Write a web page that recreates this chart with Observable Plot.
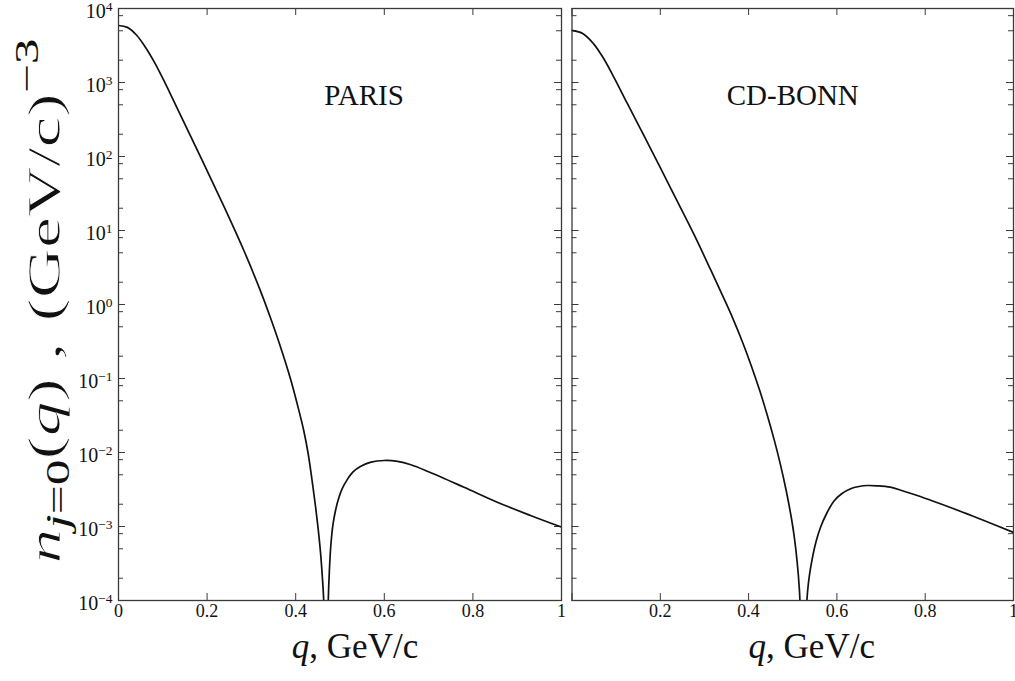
<!DOCTYPE html>
<html>
<head>
<meta charset="utf-8">
<script src="https://cdn.jsdelivr.net/npm/d3@7"></script>
<script src="https://cdn.jsdelivr.net/npm/@observablehq/plot@0.6"></script>
<style>
  html, body { margin: 0; padding: 0; background: #fff; }
  #wrap { position: relative; width: 1015px; height: 681px; overflow: hidden; background: #fff; }
  #wrap svg { position: absolute; top: 0; }
</style>
</head>
<body>
<div id="wrap"></div>
<script>
// ---- data ----
const qParis = [0, 0.02, 0.04, 0.06, 0.08, 0.10, 0.12, 0.15, 0.18, 0.21, 0.245, 0.283, 0.32, 0.343, 0.365, 0.388, 0.405, 0.418, 0.428, 0.437, 0.445, 0.451, 0.456, 0.460, 0.463, 0.466, 0.469, 0.471, 0.4735, 0.476, 0.479, 0.484, 0.49, 0.497, 0.505, 0.516, 0.53, 0.546, 0.57, 0.60, 0.63, 0.66, 0.70, 0.78, 0.855, 0.93, 1.0];
const nParis = [5.89e3, 5.56e3, 4.42e3, 3.05e3, 1.93e3, 1.135e3, 646, 272, 115, 47.9, 17.2, 5.37, 1.55, 0.661, 0.275, 0.100, 0.0417, 0.0200, 9.77e-3, 4.17e-3, 1.82e-3, 8.91e-4, 4.47e-4, 2.14e-4, 1.07e-4, 2.5e-5, 1e-7, 1e-5, 1.0e-4, 2.51e-4, 5.25e-4, 1.05e-3, 1.66e-3, 2.40e-3, 3.24e-3, 4.27e-3, 5.50e-3, 6.46e-3, 7.41e-3, 7.80e-3, 7.59e-3, 6.84e-3, 5.50e-3, 3.39e-3, 2.13e-3, 1.41e-3, 9.8e-4];

const qBonn = [0, 0.025, 0.049, 0.07, 0.095, 0.125, 0.163, 0.2, 0.238, 0.276, 0.314, 0.345, 0.363, 0.385, 0.405, 0.425, 0.442, 0.458, 0.472, 0.485, 0.495, 0.503, 0.510, 0.515, 0.518, 0.5235, 0.528, 0.531, 0.534, 0.538, 0.544, 0.553, 0.563, 0.577, 0.593, 0.61, 0.631, 0.65, 0.669, 0.69, 0.721, 0.75, 0.782, 0.82, 0.857, 0.895, 0.933, 1.0];
const nBonn = [5.05e3, 4.57e3, 3.33e3, 2.19e3, 1.175e3, 525, 191, 70.8, 25.1, 8.91, 2.95, 1.175, 0.676, 0.324, 0.155, 0.0692, 0.0324, 0.0148, 6.92e-3, 3.09e-3, 1.51e-3, 7.59e-4, 3.31e-4, 1.41e-4, 5.0e-5, 1e-7, 2.5e-5, 7.9e-5, 1.41e-4, 2.24e-4, 3.63e-4, 6.31e-4, 9.77e-4, 1.51e-3, 2.19e-3, 2.75e-3, 3.24e-3, 3.47e-3, 3.58e-3, 3.55e-3, 3.40e-3, 3.02e-3, 2.62e-3, 2.18e-3, 1.81e-3, 1.48e-3, 1.205e-3, 8.32e-4];

const panelNames = ["PARIS", "CD-BONN"];
const yDecades = [-4, -3, -2, -1, 0, 1, 2, 3, 4];
const yMinorFactors = [2, 5, 8];
const xTickValues = [0, 0.2, 0.4, 0.6, 0.8, 1];
const xTicksLeft = ["0", "0.2", "0.4", "0.6", "0.8", "1"];
const xTicksRight = ["", "0.2", "0.4", "0.6", "0.8", "1"];
const xTitleVar = "q";
const xTitleUnit = ", GeV/c";

// ---- derived ----
const yMajor = yDecades.map(e => Math.pow(10, e));
const yMinor = yDecades.slice(0, -1).flatMap(e => yMinorFactors.map(f => f * Math.pow(10, e)));
const SERIF = "'Liberation Serif', 'Times New Roman', serif";
const NS = "http://www.w3.org/2000/svg";
const H = 681, MT = 8, MB = 81;
const FH = H - MT - MB;
const AX = "#3a3a3a";

function panel(o) {
  const fw = o.width - o.ml - o.mr;
  const data = o.q.map((q, i) => ({q, n: o.n[i]}));
  const xl = xTickValues.map((v, i) => ({v, s: o.xLabels[i]})).filter(d => d.s !== "");
  const marks = [
    Plot.tickY(yMajor, {y: d => d, insetRight: fw - 7, stroke: AX, strokeWidth: 1}),
    Plot.tickY(yMinor, {y: d => d, insetRight: fw - 5, stroke: AX, strokeWidth: 1}),
    Plot.tickY(yMajor, {y: d => d, insetLeft: fw - 7, stroke: AX, strokeWidth: 1}),
    Plot.tickY(yMinor, {y: d => d, insetLeft: fw - 5, stroke: AX, strokeWidth: 1}),
    Plot.tickX(xTickValues, {x: d => d, insetBottom: FH - 7, stroke: AX, strokeWidth: 1}),
    Plot.tickX(xTickValues, {x: d => d, insetTop: FH - 7, stroke: AX, strokeWidth: 1}),
    Plot.line(data, {x: "q", y: "n", stroke: "#111", strokeWidth: 1.7, curve: "catmull-rom", clip: true}),
    Plot.frame({stroke: AX, strokeWidth: 1.3}),
    Plot.text(xl, {x: "v", text: "s", frameAnchor: "bottom", dy: 16, fontSize: 18, fill: "#111"}),
    Plot.text([o.name], {frameAnchor: "top", dx: o.nameDx, dy: 76, fontSize: 29, fill: "#111"}),
    Plot.text([xTitleVar + xTitleUnit], {frameAnchor: "bottom", dx: o.titleDx, dy: 57, fontSize: 35, fill: "#111", ariaDescription: "xtitle"})
  ];
  if (o.yLabels) {
    marks.push(Plot.text(yDecades, {y: d => Math.pow(10, d), text: d => String(d), frameAnchor: "left", textAnchor: "end", dx: -6, dy: 3, fontSize: 20, fill: "#111", ariaDescription: "ytl"}));
  }
  const svg = Plot.plot({
    width: o.width,
    height: H,
    marginLeft: o.ml,
    marginRight: o.mr,
    marginTop: MT,
    marginBottom: MB,
    style: {fontFamily: SERIF, background: "transparent", overflow: "visible"},
    x: {domain: [0, 1], axis: null},
    y: {type: "log", domain: [1e-4, 1e4], axis: null},
    marks
  });
  svg.style.left = o.left + "px";
  // superscript exponents on y tick labels
  svg.querySelectorAll('g[aria-description="ytl"] text').forEach(t => {
    const e = t.textContent;
    t.textContent = "10";
    const s = document.createElementNS(NS, "tspan");
    s.setAttribute("dy", "-0.5em");
    s.setAttribute("font-size", "13.5");
    s.textContent = e.replace("-", "\u2212");
    t.appendChild(s);
  });
  // italic variable in x title
  svg.querySelectorAll('g[aria-description="xtitle"] text').forEach(t => {
    t.textContent = "";
    const a = document.createElementNS(NS, "tspan");
    a.setAttribute("font-style", "italic");
    a.textContent = xTitleVar;
    const b = document.createElementNS(NS, "tspan");
    b.textContent = xTitleUnit;
    t.appendChild(a); t.appendChild(b);
  });
  return svg;
}

const wrap = document.getElementById("wrap");
const svgL = panel({q: qParis, n: nParis, name: panelNames[0], width: 566, ml: 118, mr: 5, left: 0, yLabels: true, xLabels: xTicksLeft, nameDx: 24, titleDx: 15});
const svgR = panel({q: qBonn, n: nBonn, name: panelNames[1], width: 449, ml: 5.5, mr: 2, left: 566, yLabels: false, xLabels: xTicksRight, nameDx: 0, titleDx: 19});
wrap.appendChild(svgL);
wrap.appendChild(svgR);

// y-axis title
const yt = d3.select(svgL).append("text")
  .attr("transform", "translate(60,301) rotate(-90)")
  .attr("text-anchor", "middle")
  .attr("font-family", SERIF)
  .attr("font-size", 46)
  .attr("fill", "#111")
  .attr("textLength", 525)
  .attr("lengthAdjust", "spacingAndGlyphs");
const big = s => s.attr("stroke", "#fff").attr("stroke-width", 0.8);
big(yt.append("tspan").attr("font-style", "italic").text("n"));
yt.append("tspan").attr("font-size", 34).attr("dy", 9).attr("font-style", "italic").text("j");
yt.append("tspan").attr("font-size", 34).text("=0");
big(yt.append("tspan").attr("dy", -9).text("("));
big(yt.append("tspan").attr("font-style", "italic").text("q"));
big(yt.append("tspan").text(")"));
big(yt.append("tspan").attr("dx", 12).text(","));
big(yt.append("tspan").attr("dx", 14).text("(GeV/c)"));
yt.append("tspan").attr("font-size", 34).attr("dy", -22).text("\u22123");
</script>
</body>
</html>
